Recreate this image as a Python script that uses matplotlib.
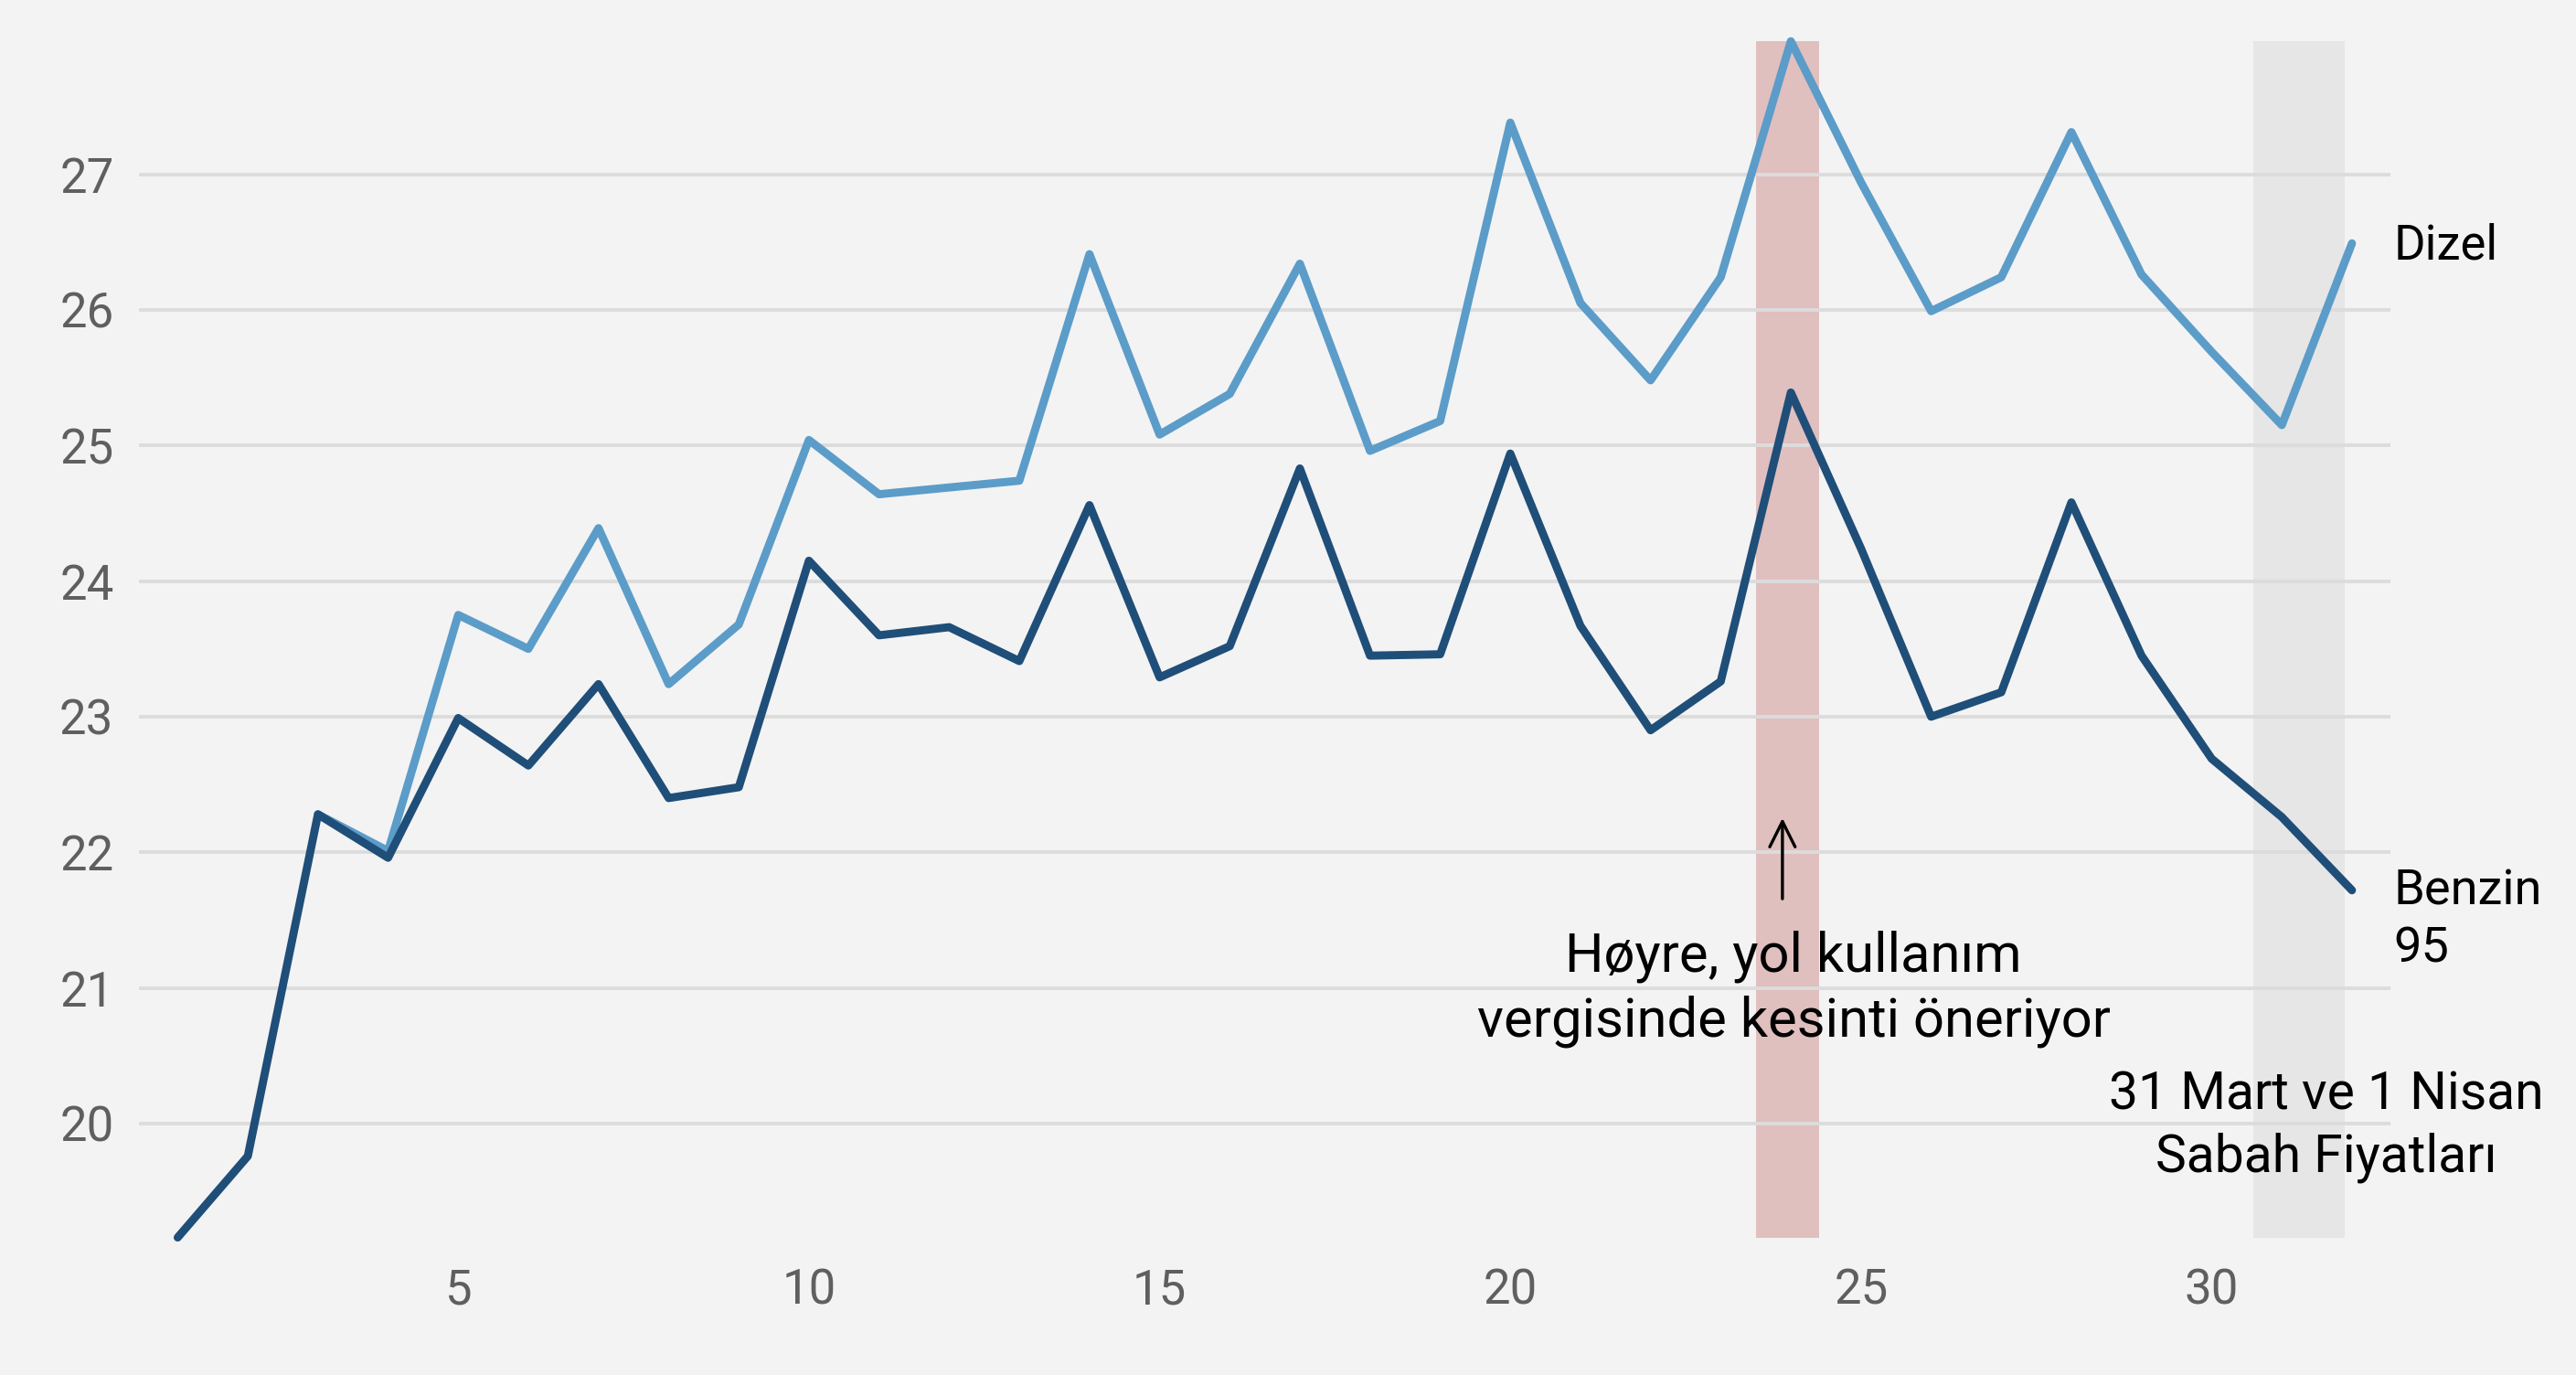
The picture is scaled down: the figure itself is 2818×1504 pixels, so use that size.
import numpy as np
import matplotlib
matplotlib.use("Agg")
import matplotlib.pyplot as plt

plt.rcParams['font.family'] = ['Roboto', 'DejaVu Sans']

days = list(range(1, 33))
benzin = [19.16, 19.76, 22.28, 21.96, 22.99, 22.64, 23.24, 22.40, 22.48, 24.15,
          23.60, 23.66, 23.41, 24.56, 23.29, 23.52, 24.83, 23.45, 23.46, 24.94,
          23.67, 22.90, 23.26, 25.39, 24.24, 23.00, 23.18, 24.58, 23.45, 22.69,
          22.26, 21.72]
dizel = [np.nan, np.nan, 22.28, 22.01, 23.75, 23.50, 24.39, 23.24, 23.68, 25.04,
         24.64, 24.69, 24.74, 26.41, 25.08, 25.38, 26.34, 24.96, 25.18, 27.38,
         26.05, 25.48, 26.24, 27.98, 26.94, 25.99, 26.24, 27.31, 26.26, 25.69,
         25.15, 26.49]
event_span = (23.5, 24.4)
morning_span = (30.6, 31.9)

bg = "#f3f3f3"
fig = plt.figure(figsize=(14.09, 7.52), dpi=200, facecolor=bg)
ax = fig.add_axes([0.054, 0.1, 0.874, 0.87], facecolor=bg)

ax.axvspan(*event_span, color="#e0bfbf", zorder=1, lw=0)
ax.axvspan(*morning_span, color="#e6e6e6", zorder=1, lw=0)

ax.plot(days, dizel, color="#5b9cc9", lw=3.2, zorder=3, clip_on=False,
        solid_capstyle="round")
ax.plot(days, benzin, color="#1f4e79", lw=3.2, zorder=4, clip_on=False,
        solid_capstyle="round")

ax.set_xlim(0.45, 32.55)
ax.set_ylim(19.16, 27.98)
ax.set_xticks([5, 10, 15, 20, 25, 30])
ax.set_yticks(range(20, 28))
ax.grid(axis="y", color="#dcdcdc", lw=1.4, zorder=0)
ax.tick_params(length=0, labelsize=19, labelcolor="#5f5f5f")
ax.tick_params(axis="x", pad=12)
ax.tick_params(axis="y", pad=10)
for s in ax.spines.values():
    s.set_visible(False)

ax.annotate("", xy=(23.88, 22.29), xytext=(23.88, 21.62),
            arrowprops=dict(arrowstyle="->", color="black", lw=1.2, mutation_scale=25))
ax.text(24.04, 20.99, "Høyre, yol kullanım\nvergisinde kesinti öneriyor",
        ha="center", va="center", fontsize=21.5, linespacing=1.3, zorder=5)
ax.text(31.63, 19.98, "31 Mart ve 1 Nisan\nSabah Fiyatları",
        ha="center", va="center", fontsize=20.5, linespacing=1.3, zorder=5, clip_on=False)
ax.text(32.59, 26.47, "Dizel", ha="left", va="center", fontsize=19, clip_on=False)
ax.text(32.59, 21.5, "Benzin\n95", ha="left", va="center", fontsize=19.5,
        linespacing=1.3, clip_on=False)

fig.savefig("out.png", dpi=200, facecolor=bg)
